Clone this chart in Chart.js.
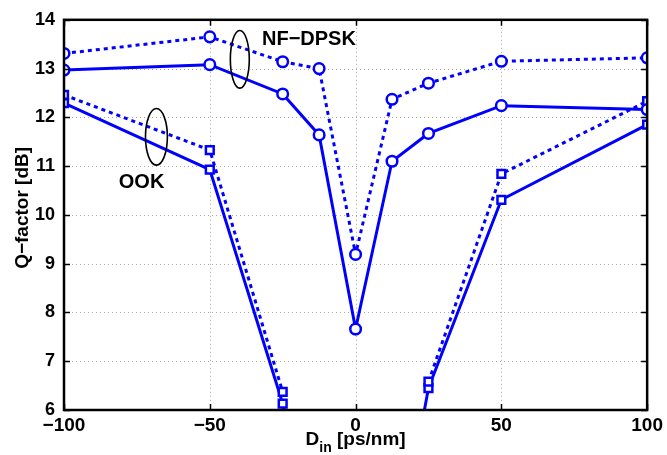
<!DOCTYPE html>
<html>
<head>
<meta charset="utf-8">
<script src="https://cdn.jsdelivr.net/npm/chart.js@4.4.1/dist/chart.umd.min.js"></script>
<style>
  html, body { margin: 0; padding: 0; background: #fff; }
  #wrap { width: 667px; height: 455px; }
</style>
</head>
<body>
<div id="wrap"><canvas id="chart" width="667" height="455"></canvas></div>
<script>
// dispersion values (ps/nm)
const dispersion = [-100, -50, -25, -12.5, 0, 12.5, 25, 50, 100];
const dpskDotted = [13.31, 13.65, 13.14, 13.0, 9.19, 12.37, 12.70, 13.15, 13.22];
const dpskSolid = [12.97, 13.08, 12.48, 11.64, 7.66, 11.10, 11.67, 12.24, 12.16];

const ookDispersion = [-100, -50, -25, -12.5, 12.5, 25, 50, 100];
const ookDotted = [12.46, 11.33, 6.37, null, null, 6.58, 10.84, 12.33];
const ookSolid = [12.29, 10.93, 6.13, 2.4, 2.4, 6.45, 10.31, 11.85];

const xTicks = [-100, -50, 0, 50, 100];
const yTicks = [6, 7, 8, 9, 10, 11, 12, 13, 14];

const BLUE = '#0000ff';
const FONT = '"Liberation Sans", Arial, Helvetica, sans-serif';

function pts(xs, ys) {
    return xs.map((x, i) => ({ x: x, y: ys[i] }));
}

function series(xs, ys, dotted, shape) {
    return {
        data: pts(xs, ys),
        borderColor: BLUE,
        backgroundColor: '#fff',
        borderWidth: 3,
        borderDash: dotted ? [4, 4] : [],
        pointStyle: shape,
        pointRadius: shape === 'rect' ? 5.5 : 5.3,
        pointBorderWidth: 2.5,
        pointBackgroundColor: '#fff',
        pointBorderColor: BLUE,
        tension: 0,
        spanGaps: false
    };
}

// dotted grid behind the data
const grid = {
    id: 'grid',
    beforeDatasetsDraw(chart) {
        const ctx = chart.ctx;
        const a = chart.chartArea;
        const xs = chart.scales.x;
        const ys = chart.scales.y;
        ctx.save();
        ctx.strokeStyle = '#a8a8a8';
        ctx.lineWidth = 1;
        ctx.setLineDash([1, 3]);
        ctx.beginPath();
        xTicks.forEach(v => {
            const px = Math.round(xs.getPixelForValue(v)) + 0.5;
            ctx.moveTo(px, a.top); ctx.lineTo(px, a.bottom);
        });
        yTicks.forEach(v => {
            const py = Math.round(ys.getPixelForValue(v)) + 0.5;
            ctx.moveTo(a.left, py); ctx.lineTo(a.right, py);
        });
        ctx.stroke();
        ctx.restore();
    }
};

// frame, inward ticks, annotations and axis titles
const decor = {
    id: 'decor',
    afterDatasetsDraw(chart) {
        const ctx = chart.ctx;
        const a = chart.chartArea;
        const xs = chart.scales.x;
        const ys = chart.scales.y;
        ctx.save();

        // inward tick marks on all sides
        ctx.strokeStyle = '#000';
        ctx.lineWidth = 1.5;
        ctx.beginPath();
        xTicks.forEach(v => {
            const px = Math.round(xs.getPixelForValue(v)) + 0.5;
            ctx.moveTo(px, a.bottom); ctx.lineTo(px, a.bottom - 6);
            ctx.moveTo(px, a.top); ctx.lineTo(px, a.top + 6);
        });
        yTicks.forEach(v => {
            const py = Math.round(ys.getPixelForValue(v)) + 0.5;
            ctx.moveTo(a.left, py); ctx.lineTo(a.left + 6, py);
            ctx.moveTo(a.right, py); ctx.lineTo(a.right - 6, py);
        });
        ctx.stroke();

        // box
        ctx.lineWidth = 2.5;
        ctx.strokeRect(a.left, a.top, a.right - a.left, a.bottom - a.top);

        // ellipses marking the curve groups
        const ellipse = (cx, cy, rx, ry) => {
            ctx.beginPath();
            ctx.ellipse(xs.getPixelForValue(cx), ys.getPixelForValue(cy),
                rx * (xs.getPixelForValue(1) - xs.getPixelForValue(0)),
                ry * (ys.getPixelForValue(0) - ys.getPixelForValue(1)), 0, 0, Math.PI * 2);
            ctx.stroke();
        };
        ctx.lineWidth = 1.6;
        ellipse(-39.7, 13.19, 3.25, 0.59);
        ellipse(-68.3, 11.60, 3.76, 0.58);

        ctx.fillStyle = '#000';
        ctx.font = 'bold 20px ' + FONT;
        ctx.textBaseline = 'middle';
        ctx.textAlign = 'left';
        ctx.fillText('NF\u2212DPSK', xs.getPixelForValue(-32.1), ys.getPixelForValue(13.6));
        ctx.textAlign = 'center';
        ctx.fillText('OOK', xs.getPixelForValue(-73.4), ys.getPixelForValue(10.66));

        // x title with subscript
        const main = 'bold 19px ' + FONT;
        const sub = 'bold 14px ' + FONT;
        ctx.textAlign = 'left';
        ctx.textBaseline = 'alphabetic';
        ctx.font = main;
        const wD = ctx.measureText('D').width;
        const wRest = ctx.measureText(' [ps/nm]').width;
        ctx.font = sub;
        const wIn = ctx.measureText('in').width;
        let x0 = (a.left + a.right) / 2 - (wD + wIn + wRest) / 2;
        const base = 445;
        ctx.font = main;
        ctx.fillText('D', x0, base);
        ctx.font = sub;
        ctx.fillText('in', x0 + wD, base + 7);
        ctx.font = main;
        ctx.fillText(' [ps/nm]', x0 + wD + wIn, base);

        // y title
        ctx.translate(23, (a.top + a.bottom) / 2 - 7);
        ctx.rotate(-Math.PI / 2);
        ctx.textAlign = 'center';
        ctx.textBaseline = 'middle';
        ctx.font = 'bold 19px ' + FONT;
        ctx.fillText('Q\u2212factor [dB]', 0, 0);

        ctx.restore();
    }
};

const fmt = v => String(v).replace('-', '\u2212');

new Chart(document.getElementById('chart'), {
    type: 'line',
    data: {
        datasets: [
            series(dispersion, dpskDotted, true, 'circle'),
            series(dispersion, dpskSolid, false, 'circle'),
            series(ookDispersion, ookDotted, true, 'rect'),
            series(ookDispersion, ookSolid, false, 'rect')
        ]
    },
    options: {
        responsive: false,
        animation: false,
        layout: { padding: { left: 0, right: 18, top: 15, bottom: 0 } },
        plugins: {
            legend: { display: false },
            tooltip: { enabled: false }
        },
        scales: {
            x: {
                type: 'linear',
                min: -100,
                max: 100,
                afterBuildTicks: s => { s.ticks = xTicks.map(v => ({ value: v })); },
                afterFit: s => { s.height = 45; },
                grid: { display: false, drawTicks: false },
                border: { display: false },
                ticks: {
                    callback: fmt,
                    color: '#000',
                    padding: 4,
                    maxRotation: 0,
                    font: { family: FONT, size: 19, weight: 'bold' }
                }
            },
            y: {
                type: 'linear',
                min: 6,
                max: 14,
                afterBuildTicks: s => { s.ticks = yTicks.map(v => ({ value: v })); },
                afterFit: s => { s.width = 64; },
                grid: { display: false, drawTicks: false },
                border: { display: false },
                ticks: {
                    callback: fmt,
                    color: '#000',
                    padding: 9,
                    font: { family: FONT, size: 18, weight: 'bold' }
                }
            }
        }
    },
    plugins: [grid, decor]
});
</script>
</body>
</html>
